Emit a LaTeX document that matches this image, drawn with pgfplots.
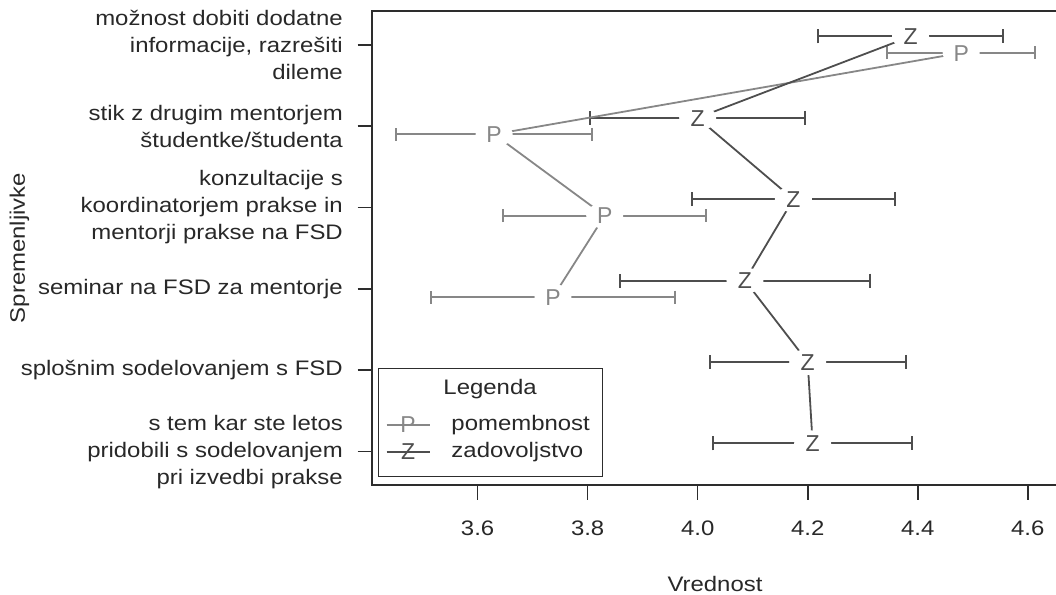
\documentclass[border=0pt]{standalone}
\usepackage{fontspec}
\setmainfont{Liberation Sans}[FakeStretch=1.14]
\newfontfamily\markfont{Liberation Sans}
\usepackage{pgfplots}
\usepackage{pgfplotstable}
\pgfplotsset{compat=1.18}
\usetikzlibrary{shapes.geometric}
\definecolor{pcol}{RGB}{135,135,135}
\definecolor{zcol}{RGB}{78,78,78}
\definecolor{axcol}{RGB}{45,45,45}
\definecolor{txtcol}{RGB}{40,40,40}
\newcommand{\lblfont}{\fontsize{21bp}{27bp}\selectfont}
\newcommand{\mkfont}{\markfont\fontsize{23bp}{23bp}\selectfont}

\pgfplotstableread{
x y em ep
4.479 5.900 0.135 0.135
3.630 4.900 0.178 0.178
3.831 3.900 0.185 0.185
3.737 2.900 0.221 0.221
}\Ptab

\pgfplotstableread{
x y em ep
4.387 6.102 0.168 0.168
4.000 5.102 0.195 0.195
4.174 4.102 0.184 0.184
4.086 3.102 0.227 0.227
4.200 2.102 0.178 0.178
4.209 1.102 0.181 0.181
}\Ztab

\begin{document}
\begin{tikzpicture}
\useasboundingbox (0,0) rectangle (1056bp,595bp);
\begin{axis}[
  at={(372bp,110bp)}, anchor=south west,
  width=686bp, height=474bp, scale only axis,
  xmin=3.408, xmax=4.655, ymin=0.59, ymax=6.415,
  axis line style={draw=axcol, line width=1.8bp},
  xtick={3.6,3.8,4.0,4.2,4.4,4.6},
  xticklabels={3.6,3.8,4.0,4.2,4.4,4.6},
  ytick={1,2,3,4,5,6},
  yticklabels={
    {s tem kar ste letos\\pridobili s sodelovanjem\\pri izvedbi prakse},
    {splošnim sodelovanjem s FSD},
    {seminar na FSD za mentorje},
    {konzultacije s\\koordinatorjem prakse in\\mentorji prakse na FSD},
    {stik z drugim mentorjem\\študentke/študenta},
    {možnost dobiti dodatne\\informacije, razrešiti\\dileme}},
  xtick pos=bottom, ytick pos=left,
  tick align=outside, major tick length=14.5bp,
  tick style={draw=axcol, line width=1.6bp},
  xticklabel style={font=\lblfont, text=txtcol, anchor=center, inner sep=0pt, yshift=-28.5bp},
  yticklabel style={font=\lblfont, text=txtcol, anchor=east, inner sep=0pt, align=right, xshift=-14.5bp},
  xlabel={Vrednost}, ylabel={Spremenljivke},
  xlabel style={font=\lblfont, text=txtcol, at={(axis description cs:0.5,-0.2089)}, anchor=center, inner sep=0pt},
  ylabel style={font=\lblfont, text=txtcol, at={(axis description cs:-0.5139,0.5)}, anchor=center, inner sep=0pt},
  legend style={font=\lblfont, text=txtcol, draw=axcol, line width=1.4bp, fill=white,
    at={(axis description cs:0.00875,0.2475)}, anchor=north west,
    inner xsep=7bp, inner ysep=9bp, row sep=0bp,
    cells={anchor=base west},
    nodes={inner sep=0pt, text height=17bp, text depth=10bp}},
]
\addlegendimage{empty legend}
\addlegendentry[text depth=19bp]{\hspace*{-8bp}Legenda}

% error bars
\addplot[forget plot, draw=none,
  error bars/.cd, x dir=both, x explicit, error mark=|,
  error bar style={draw=pcol, solid, line width=2bp},
  error mark options={draw=pcol, solid, line width=2bp, mark size=6.5bp}]
  table[x=x, y=y, x error minus=em, x error plus=ep]{\Ptab};
\addplot[forget plot, draw=none,
  error bars/.cd, x dir=both, x explicit, error mark=|,
  error bar style={draw=zcol, solid, line width=2bp},
  error mark options={draw=zcol, solid, line width=2bp, mark size=7bp}]
  table[x=x, y=y, x error minus=em, x error plus=ep]{\Ztab};

% connecting lines with letters
\addplot[pcol, line width=1.8bp, mark=none,
  nodes near coords={P}, nodes near coords align=center,
  every node near coord/.append style={anchor=center, ellipse, fill=white, inner sep=0pt,
     text height=16.5bp, text depth=0bp,
     minimum width=37bp, minimum height=26bp, font=\mkfont, text=pcol},
  legend image code/.code={
    \draw[pcol, line width=1.8bp] (0bp,5.5bp) -- (43bp,5.5bp);
    \node[anchor=center, text=pcol, inner sep=0pt, text height=16.5bp, text depth=0bp, font=\mkfont] at (21.5bp,6.5bp) {P};
    \path (64bp,5.5bp);}]
  table[x=x, y=y]{\Ptab};
\addlegendentry{pomembnost}
\addplot[zcol, line width=1.8bp, mark=none,
  nodes near coords={Z}, nodes near coords align=center,
  every node near coord/.append style={anchor=center, ellipse, fill=white, inner sep=0pt,
     text height=16.5bp, text depth=0bp,
     minimum width=37bp, minimum height=26bp, font=\mkfont, text=zcol},
  legend image code/.code={
    \draw[zcol, line width=1.8bp] (0bp,5.5bp) -- (43bp,5.5bp);
    \node[anchor=center, text=zcol, inner sep=0pt, text height=16.5bp, text depth=0bp, font=\mkfont] at (21.5bp,6.5bp) {Z};
    \path (64bp,5.5bp);}]
  table[x=x, y=y]{\Ztab};
\addlegendentry{zadovoljstvo\hspace*{12bp}}
\end{axis}
\end{tikzpicture}
\end{document}
